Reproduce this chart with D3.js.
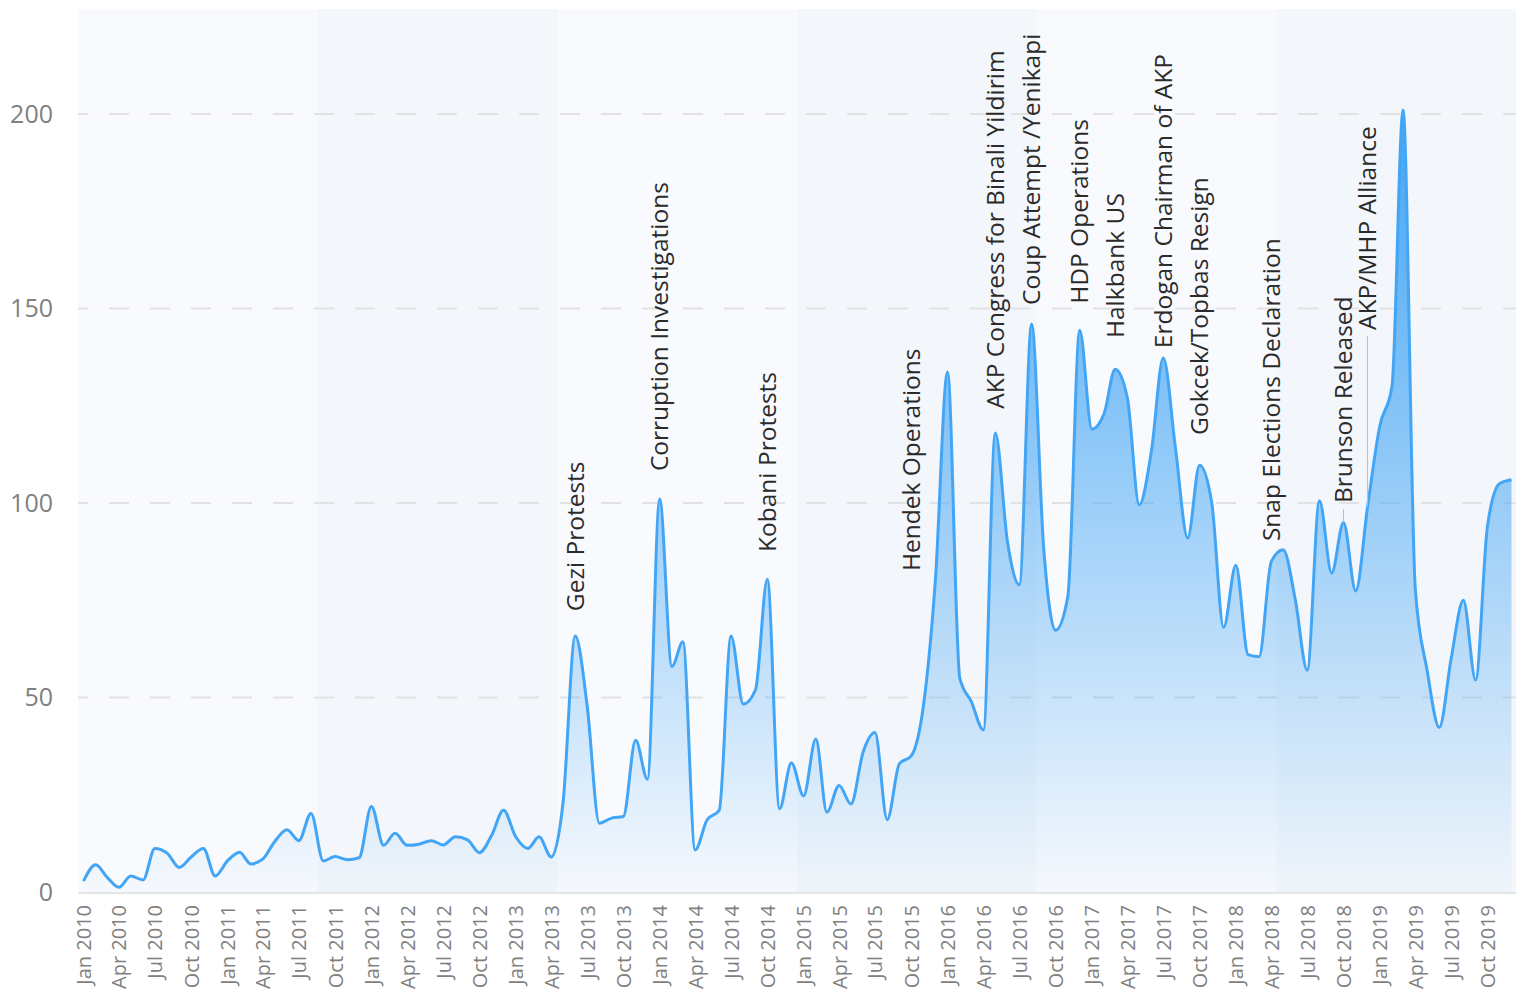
<!DOCTYPE html>
<html>
<head>
<meta charset="utf-8">
<script src="https://cdn.jsdelivr.net/npm/d3@7"></script>
<style>
  body { margin: 0; background: #fff; }
  svg { display: block; font-family: "Open Sans", sans-serif; }
</style>
</head>
<body>
<svg id="chart" width="1519" height="994"></svg>
<script>
// monthly counts, Jan 2010 .. Dec 2019
const startMonth = "2010-01";
const values = [
  2.8, 7, 3.9, 1.2, 4.1, 3.1, 11.2, 10, 6.3, 9, 11.2, 4.1,
  8, 10.2, 7.2, 8.5, 13, 16, 13.2, 20.2, 8, 9.1, 8.3, 8.8,
  22, 12, 15.1, 12, 12.3, 13.2, 12.1, 14.2, 13.4, 10.1, 14.6, 21,
  14.2, 11.2, 14.2, 9, 23, 65.8, 48, 17.7, 19, 19.4, 39, 29,
  101, 58, 64.3, 10.8, 18.5, 21, 65.8, 48.3, 52, 80.4, 21.4, 33.2,
  24.7, 39.3, 20.5, 27.4, 22.6, 36, 41, 18.6, 33, 35, 48, 80,
  133.7, 55, 49, 41.7, 118, 90, 79, 146, 88, 67.3, 76, 144.4,
  119, 123, 134.4, 127, 99.5, 113.4, 137.3, 114, 91, 109.7, 100, 68,
  84, 61, 60.5, 85, 88, 75, 57, 100.6, 82, 95, 77.4, 99,
  119.8, 130, 201, 78, 57, 42.3, 60, 75, 54.5, 94, 105, 106
];
const yTicks = [0, 50, 100, 150, 200];

// events
const eventNames = [
  "Gezi Protests", "Corruption Investigations", "Kobani Protests", "Hendek Operations",
  "AKP Congress for Binali Yildirim", "Coup Attempt /Yenikapi", "HDP Operations",
  "Halkbank US", "Erdogan Chairman of AKP", "Gokcek/Topbas Resign",
  "Snap Elections Declaration", "Brunson Released", "AKP/MHP Alliance"
];
const eventMonths = [
  "2013-06", "2014-01", "2014-10", "2015-10", "2016-05", "2016-08", "2016-12",
  "2017-03", "2017-07", "2017-10", "2018-04", "2018-10", "2018-12"
];
const eventLabelLevels = [72.2, 108.2, 87.4, 82.5, 124.2, 150.9, 151.2, 142.4, 139.8, 117.5, 90.2, 100, 144.5];
const eventConnector = [false, false, false, false, false, false, false, false, false, false, false, true, true];

const parseMonth = d3.timeParse("%Y-%m");
const t0 = parseMonth(startMonth);
const data = values.map((v, i) => ({ date: d3.timeMonth.offset(t0, i), value: v }));

const svg = d3.select("#chart");
const plotLeft = 78, plotRight = 1516, plotTop = 9, plotBottom = 892;

const x = d3.scaleTime()
  .domain([data[0].date, data[data.length - 1].date])
  .range([83.5, 1511.5]);
const y = d3.scaleLinear().domain([0, 200]).range([plotBottom, 114]);

// background bands
const bands = d3.scaleBand().domain(d3.range(6)).range([plotLeft, plotRight]);
svg.append("g")
  .selectAll("rect")
  .data(bands.domain())
  .join("rect")
  .attr("x", d => bands(d))
  .attr("y", plotTop)
  .attr("width", bands.bandwidth())
  .attr("height", plotBottom - plotTop)
  .attr("fill", d => d % 2 ? "#f3f6fa" : "#f9fafd");

// grid
svg.append("g")
  .selectAll("line")
  .data(yTicks.filter(d => d > 0))
  .join("line")
  .attr("x1", plotLeft).attr("x2", plotRight)
  .attr("y1", d => y(d)).attr("y2", d => y(d))
  .attr("stroke", "#e2e2e2")
  .attr("stroke-width", 2)
  .attr("stroke-dasharray", "20,21")
  .attr("stroke-dashoffset", 10);

svg.append("line")
  .attr("x1", plotLeft).attr("x2", plotRight)
  .attr("y1", plotBottom + 1).attr("y2", plotBottom + 1)
  .attr("stroke", "#e6e6e6")
  .attr("stroke-width", 2);

// area
const grad = svg.append("defs").append("linearGradient")
  .attr("id", "areaGrad")
  .attr("gradientUnits", "userSpaceOnUse")
  .attr("x1", 0).attr("x2", 0)
  .attr("y1", y(d3.max(values))).attr("y2", y(0));
grad.append("stop").attr("offset", 0).attr("stop-color", "#42a5f5").attr("stop-opacity", 1);
grad.append("stop").attr("offset", 1).attr("stop-color", "#42a5f5").attr("stop-opacity", 0.02);

const area = d3.area()
  .x(d => x(d.date))
  .y0(y(0))
  .y1(d => y(d.value))
  .curve(d3.curveMonotoneX);
const line = d3.line()
  .x(d => x(d.date))
  .y(d => y(d.value))
  .curve(d3.curveMonotoneX);

svg.append("path")
  .datum(data)
  .attr("d", area)
  .attr("fill", "url(#areaGrad)");

svg.append("path")
  .datum(data)
  .attr("d", line)
  .attr("fill", "none")
  .attr("stroke", "#42a5f5")
  .attr("stroke-width", 3)
  .attr("stroke-linejoin", "round");

// axes
const yAxis = svg.append("g")
  .attr("transform", `translate(${plotLeft},0)`)
  .call(d3.axisLeft(y).tickValues(yTicks).tickSize(0).tickPadding(25));
yAxis.select(".domain").remove();
yAxis.selectAll("text")
  .attr("font-family", "Open Sans")
  .attr("font-size", 25)
  .attr("fill", "#808080");

const xAxis = svg.append("g")
  .attr("transform", `translate(0,${plotBottom})`)
  .call(d3.axisBottom(x)
    .ticks(d3.timeMonth.every(3))
    .tickFormat(d3.timeFormat("%b %Y"))
    .tickSize(0));
xAxis.select(".domain").remove();
xAxis.selectAll("text")
  .attr("font-family", "Open Sans")
  .attr("font-size", 20)
  .attr("fill", "#808080")
  .attr("text-anchor", "end")
  .attr("transform", "rotate(-90)")
  .attr("x", -13)
  .attr("y", 0)
  .attr("dy", "0.35em");

// event labels
const events = eventNames.map((name, i) => {
  const date = parseMonth(eventMonths[i]);
  const point = data.find(d => +d.date === +date);
  return { name, date, value: point.value, level: eventLabelLevels[i], connector: eventConnector[i] };
});

svg.append("g")
  .selectAll("line")
  .data(events.filter(d => d.connector))
  .join("line")
  .attr("x1", d => x(d.date)).attr("x2", d => x(d.date))
  .attr("y1", d => y(d.level) + 6)
  .attr("y2", d => y(d.value))
  .attr("stroke", "#bdbdbd")
  .attr("stroke-width", 1);

svg.append("g")
  .selectAll("text")
  .data(events)
  .join("text")
  .attr("transform", d => `translate(${x(d.date)},${y(d.level)}) rotate(-90)`)
  .attr("dy", "0.35em")
  .attr("font-family", "Open Sans")
  .attr("font-size", 24.5)
  .attr("fill", "#2b2b2b")
  .text(d => d.name);
</script>
</body>
</html>
